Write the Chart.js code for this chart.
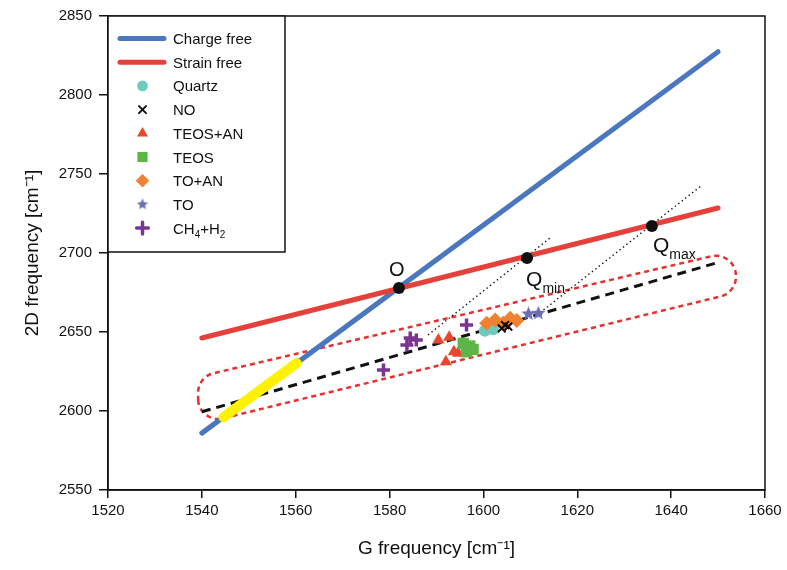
<!DOCTYPE html>
<html>
<head>
<meta charset="utf-8">
<script src="https://cdn.jsdelivr.net/npm/chart.js@4/dist/chart.umd.min.js"></script>
<style>
  html, body { margin: 0; padding: 0; background: #fff; }
  #wrap { width: 787px; height: 570px; }
</style>
</head>
<body>
<div id="wrap"><canvas id="chart" width="787" height="570"></canvas></div>
<script>
// tick labels
var gTicks = [1520, 1540, 1560, 1580, 1600, 1620, 1640, 1660];
var dTicks = [2550, 2600, 2650, 2700, 2750, 2800, 2850];

// reference lines (G, 2D)
var chargeFreeG = [1540, 1650];
var chargeFree2D = [2586, 2827.4];
var strainFreeG = [1540, 1650];
var strainFree2D = [2646.2, 2728.5];
var highlightG = [1544.6, 1560.2];
var highlight2D = [2596.1, 2630.3];
var fitG = [1540, 1650];
var fit2D = [2599.5, 2694];
var dotAG = [1588.2, 1614.2];
var dotA2D = [2648.1, 2709.5];
var dotBG = [1612.8, 1646.6];
var dotB2D = [2663.9, 2743];

// envelope corners (dashed rounded box)
var envG = [1539.2, 1653.8, 1653.8, 1539.2];
var env2D = [2621.6, 2701.6, 2674.9, 2591.5];

// marked points O, Qmin, Qmax
var refNames = ["O", "Q_min", "Q_max"];
var refG = [1582.0, 1609.3, 1635.9];
var ref2D = [2677.8, 2696.8, 2717.1];

// measured samples
var quartzG = [1600.3, 1602.1];
var quartz2D = [2650.8, 2651.7];
var noG = [1603.9, 1604.6, 1605.3];
var no2D = [2652.3, 2654.4, 2653.4];
var teosAnG = [1590.4, 1592.7, 1593.7, 1594.6, 1592.0];
var teosAn2D = [2644.9, 2646.6, 2637.5, 2636.5, 2631.2];
var teosG = [1595.7, 1597.1, 1596.4, 1597.8];
var teos2D = [2642.8, 2641.1, 2637.5, 2639.0];
var toAnG = [1600.7, 1602.5, 1604.2, 1605.7, 1607.1];
var toAn2D = [2655.5, 2657.6, 2655.5, 2658.7, 2657.2];
var toG = [1609.6, 1611.7];
var to2D = [2661.4, 2661.8];
var ch4G = [1578.7, 1583.7, 1584.4, 1585.7, 1596.4];
var ch42D = [2626.0, 2641.8, 2646.2, 2645.0, 2654.4];

var legendOrder = ["Charge free", "Strain free", "Quartz", "NO", "TEOS+AN", "TEOS", "TO+AN", "TO", "CH_4+H_2"];

var FONT = '"Liberation Sans", Arial, sans-serif';
var INK = "#111";

function pairs(xs, ys) {
  return xs.map((x, i) => ({ x: x, y: ys[i] }));
}

function makeStar(size, color) {
  const c = document.createElement("canvas");
  c.width = size; c.height = size;
  const g = c.getContext("2d");
  g.fillStyle = color;
  g.beginPath();
  for (let i = 0; i < 10; i++) {
    const r = i % 2 ? size * 0.22 : size * 0.5;
    const a = -Math.PI / 2 + i * Math.PI / 5;
    g.lineTo(size / 2 + r * Math.cos(a), size / 2 + r * Math.sin(a));
  }
  g.closePath();
  g.fill();
  return c;
}

function drawRich(ctx, text, x, y, size) {
  const parts = text.split(/(_\w+)/).filter(Boolean);
  for (const p of parts) {
    const sub = p[0] === "_";
    const t = sub ? p.slice(1) : p;
    ctx.font = (sub ? Math.round(size * 0.66) : size) + "px " + FONT;
    ctx.fillText(t, x, sub ? y + size * 0.32 : y);
    x += ctx.measureText(t).width;
  }
}

function lineSet(label, xs, ys, color, width, extra) {
  return Object.assign({
    label: label,
    data: pairs(xs, ys),
    showLine: true,
    borderColor: color,
    backgroundColor: color,
    borderWidth: width,
    pointRadius: 0,
    borderCapStyle: "round"
  }, extra || {});
}

function pointSet(label, xs, ys, color, style, radius, extra) {
  return Object.assign({
    label: label,
    data: pairs(xs, ys),
    showLine: false,
    pointStyle: style,
    pointRadius: radius,
    pointBackgroundColor: color,
    pointBorderColor: color,
    pointBorderWidth: 0,
    backgroundColor: color,
    borderColor: color
  }, extra || {});
}

const starImg = makeStar(15, "#6d6db4");
const starLegend = makeStar(12, "#6d6db4");

const datasets = [
  pointSet("ref", refG, ref2D, "#111", "circle", 6),
  pointSet("NO", noG, no2D, "#111", "crossRot", 5.5, { pointBorderWidth: 2 }),
  pointSet("TO", toG, to2D, "#6d6db4", starImg, 6),
  pointSet("TO+AN", toAnG, toAn2D, "#ef8130", "rectRot", 7.5),
  pointSet("Quartz", quartzG, quartz2D, "#6fcabe", "circle", 6),
  pointSet("TEOS", teosG, teos2D, "#5cb545", "rect", 8),
  pointSet("TEOS+AN", teosAnG, teosAn2D, "#e8472b", "triangle", 7),
  pointSet("CH_4+H_2", ch4G, ch42D, "#7a3593", "cross", 6.5, { pointBorderWidth: 3.5 }),
  lineSet("highlight", highlightG, highlight2D, "#fff200", 10),
  lineSet("Strain free", strainFreeG, strainFree2D, "#e5413a", 5),
  lineSet("Charge free", chargeFreeG, chargeFree2D, "#4b77be", 5),
  lineSet("fit", fitG, fit2D, "#111", 3, { borderDash: [9, 6], borderCapStyle: "butt" }),
  lineSet("dotA", dotAG, dotA2D, "#111", 1.4, { borderDash: [1.4, 3], borderCapStyle: "butt" }),
  lineSet("dotB", dotBG, dotB2D, "#111", 1.4, { borderDash: [1.4, 3], borderCapStyle: "butt" })
];

const overlay = {
  id: "overlay",
  beforeDatasetsDraw(chart) {
    const ctx = chart.ctx;
    const xs = chart.scales.x, ys = chart.scales.y;
    const pts = envG.map((g, i) => ({ x: xs.getPixelForValue(g), y: ys.getPixelForValue(env2D[i]) }));
    const n = pts.length;
    ctx.save();
    ctx.strokeStyle = "#e5312f";
    ctx.lineWidth = 2.5;
    ctx.setLineDash([5, 4]);
    ctx.beginPath();
    ctx.moveTo((pts[n - 1].x + pts[0].x) / 2, (pts[n - 1].y + pts[0].y) / 2);
    for (let i = 0; i < n; i++) {
      const a = pts[i], b = pts[(i + 1) % n];
      ctx.arcTo(a.x, a.y, b.x, b.y, 20);
    }
    ctx.closePath();
    ctx.stroke();
    ctx.restore();
  },
  afterDatasetsDraw(chart) {
    const ctx = chart.ctx;
    const area = chart.chartArea;
    const xs = chart.scales.x, ys = chart.scales.y;
    ctx.save();
    // frame
    ctx.strokeStyle = INK;
    ctx.lineWidth = 1.5;
    ctx.strokeRect(area.left, area.top, area.right - area.left, area.bottom - area.top);

    // labels of O, Qmin, Qmax
    ctx.fillStyle = INK;
    ctx.textBaseline = "alphabetic";
    ctx.textAlign = "left";
    const offs = [[-10, -12], [-1, 28], [1, 26]];
    refNames.forEach((name, i) => {
      const px = xs.getPixelForValue(refG[i]);
      const py = ys.getPixelForValue(ref2D[i]);
      drawRich(ctx, name, px + offs[i][0], py + offs[i][1], name === "O" ? 20 : 21);
    });

    // legend box
    const lx = area.left, ly = area.top;
    ctx.fillStyle = "#fff";
    ctx.fillRect(lx, ly, 177, 236);
    ctx.strokeStyle = INK;
    ctx.lineWidth = 1.5;
    ctx.strokeRect(lx, ly, 177, 236);

    legendOrder.forEach((label, i) => {
      const ds = datasets.find(d => d.label === label);
      const cy = ly + 22.5 + i * 23.7;
      if (ds.showLine) {
        ctx.strokeStyle = ds.borderColor;
        ctx.lineWidth = ds.borderWidth;
        ctx.lineCap = "round";
        ctx.setLineDash([]);
        ctx.beginPath();
        ctx.moveTo(lx + 12, cy);
        ctx.lineTo(lx + 56, cy);
        ctx.stroke();
      } else {
        ctx.fillStyle = ds.pointBackgroundColor;
        ctx.strokeStyle = ds.pointBorderColor;
        ctx.lineWidth = ds.pointBorderWidth;
        const style = ds.pointStyle === starImg ? starLegend : ds.pointStyle;
        Chart.helpers.drawPoint(ctx, {
          pointStyle: style,
          radius: ds.pointRadius * 0.9,
          rotation: 0,
          borderWidth: ds.pointBorderWidth
        }, lx + 34.5, cy);
      }
      ctx.fillStyle = INK;
      ctx.textAlign = "left";
      drawRich(ctx, label, lx + 65, cy + 5.5, 15);
    });
    ctx.restore();
  }
};

new Chart(document.getElementById("chart").getContext("2d"), {
  type: "scatter",
  data: { datasets: datasets },
  options: {
    responsive: false,
    maintainAspectRatio: false,
    animation: false,
    layout: { padding: { top: 16, right: 22, left: 0, bottom: 0 } },
    plugins: { legend: { display: false }, tooltip: { enabled: false } },
    scales: {
      x: {
        type: "linear",
        min: 1520,
        max: 1660,
        afterBuildTicks: s => { s.ticks = gTicks.map(v => ({ value: v })); },
        afterFit: s => { s.height = 80; },
        grid: { drawOnChartArea: false, tickLength: 8, color: INK, lineWidth: 1.5 },
        border: { color: INK, width: 1.5 },
        ticks: {
          color: INK, font: { family: FONT, size: 15 }, padding: 4, maxRotation: 0,
          callback: v => String(v)
        },
        title: {
          display: true, text: "G frequency [cm⁻¹]", color: INK,
          font: { family: FONT, size: 19 }, padding: { top: 0, bottom: 10 }
        }
      },
      y: {
        type: "linear",
        min: 2550,
        max: 2850,
        afterBuildTicks: s => { s.ticks = dTicks.map(v => ({ value: v })); },
        afterFit: s => { s.width = 108; },
        grid: { drawOnChartArea: false, tickLength: 9, color: INK, lineWidth: 1.5 },
        border: { color: INK, width: 1.5 },
        ticks: {
          color: INK, font: { family: FONT, size: 15 }, padding: 7,
          callback: v => String(v)
        },
        title: {
          display: true, text: "2D frequency [cm⁻¹]", color: INK,
          font: { family: FONT, size: 19 }, padding: { top: 21, bottom: 0 }
        }
      }
    }
  },
  plugins: [overlay]
});
</script>
</body>
</html>
